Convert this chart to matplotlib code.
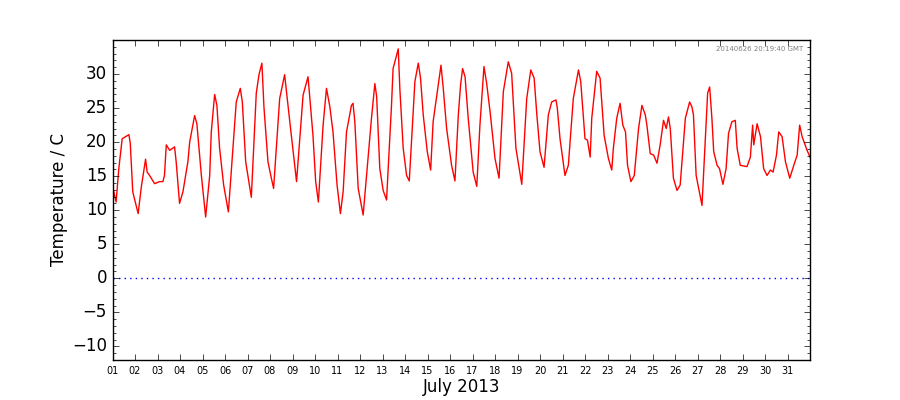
import datetime as dt
import matplotlib
matplotlib.use('Agg')
import matplotlib.pyplot as plt
import matplotlib.dates as mdates
from matplotlib.ticker import MultipleLocator, FixedLocator

# day of month (decimal) and temperature in C
days = [1.01, 1.16, 1.28, 1.43, 1.73, 1.79, 1.90, 2.14, 2.28, 2.47, 2.54, 2.65, 2.87,
        3.09, 3.24, 3.31, 3.39, 3.54, 3.76, 3.83, 3.98, 4.13, 4.35, 4.43, 4.65, 4.75,
        4.95, 5.14, 5.32, 5.39, 5.54, 5.64, 5.76, 5.94, 6.15, 6.35, 6.50, 6.68, 6.77,
        6.92, 7.17, 7.39, 7.51, 7.64, 7.73, 7.91, 8.06, 8.16, 8.43, 8.65, 8.88, 9.18,
        9.47, 9.69, 9.91, 10.03, 10.15, 10.36, 10.51, 10.66, 10.80, 10.98, 11.13, 11.25,
        11.40, 11.62, 11.69, 11.77, 11.92, 12.14, 12.29, 12.51, 12.66, 12.74, 12.88,
        13.03, 13.18, 13.40, 13.47, 13.70, 13.77, 13.92, 14.07, 14.19, 14.44, 14.59,
        14.69, 14.81, 14.99, 15.14, 15.25, 15.48, 15.60, 15.70, 15.85, 16.07, 16.22,
        16.37, 16.47, 16.56, 16.67, 16.81, 17.03, 17.19, 17.33, 17.51, 17.63, 17.78,
        18.00, 18.18, 18.37, 18.59, 18.74, 18.93, 19.19, 19.41, 19.59, 19.74, 19.86,
        20.00, 20.18, 20.37, 20.52, 20.71, 20.77, 20.89, 21.11, 21.26, 21.48, 21.71,
        21.81, 22.00, 22.11, 22.23, 22.30, 22.52, 22.67, 22.85, 23.04, 23.19, 23.26,
        23.41, 23.56, 23.68, 23.80, 23.89, 24.04, 24.19, 24.38, 24.53, 24.68, 24.75,
        24.90, 25.05, 25.20, 25.34, 25.49, 25.61, 25.71, 25.79, 25.93, 26.09, 26.23,
        26.46, 26.65, 26.75, 26.82, 26.94, 27.20, 27.34, 27.45, 27.54, 27.64, 27.72,
        27.87, 27.98, 28.13, 28.27, 28.38, 28.53, 28.68, 28.76, 28.90, 29.20, 29.35,
        29.45, 29.50, 29.65, 29.80, 29.94, 30.09, 30.24, 30.36, 30.51, 30.61, 30.76,
        30.91, 31.10, 31.28, 31.43, 31.54, 31.65, 31.87, 32.00]
temps = [13.4, 11.2, 16.1, 20.5, 21.1, 19.8, 12.7, 9.5, 13.4, 17.5, 15.6, 15.1, 13.9,
         14.2, 14.2, 15.1, 19.6, 18.8, 19.3, 17.1, 11.0, 12.7, 17.1, 20.0, 23.9, 22.7,
         15.1, 9.0, 15.1, 21.5, 27.0, 25.4, 19.1, 13.7, 9.75, 19.1, 25.9, 27.9, 25.9,
         17.1, 11.9, 27.2, 29.9, 31.6, 25.2, 17.1, 14.7, 13.2, 26.4, 29.9, 23.0, 14.2,
         26.9, 29.6, 21.0, 14.2, 11.2, 22.5, 27.9, 25.2, 21.5, 13.7, 9.5, 12.7,
         21.5, 25.4, 25.7, 23.0, 13.2, 9.3, 15.1, 23.5, 28.6, 26.7, 16.1,
         12.9, 11.5, 25.4, 30.8, 33.7, 27.9, 19.1, 15.1, 14.3, 28.9, 31.6,
         29.4, 24.0, 18.6, 15.9, 23.0, 28.4, 31.3, 27.9, 22.0, 16.6, 14.3,
         24.0, 28.4, 30.8, 29.6, 23.5, 15.6, 13.5, 22.5, 31.1, 28.6, 24.5,
         17.6, 14.7, 27.4, 31.8, 30.1, 19.1, 13.8, 26.4, 30.6, 29.4, 24.0,
         18.6, 16.3, 24.0, 25.9, 26.2, 25.0, 20.5, 15.1, 16.6, 26.4, 30.6,
         28.9, 20.5, 20.3, 17.8, 23.5, 30.4, 29.4, 21.0, 17.6, 15.9, 19.1,
         23.5, 25.7, 22.5, 21.5, 16.6, 14.2, 15.1, 22.0, 25.4, 24.0, 22.5,
         18.3, 18.1, 16.9, 19.6, 23.2, 22.0, 23.7, 22.0, 14.7, 12.9, 13.7,
         23.5, 25.9, 25.2, 24.0, 15.1, 10.7, 20.0, 27.2, 28.1, 23.5, 18.6,
         16.6, 16.1, 13.8, 16.1, 21.3, 23.0, 23.2, 19.1, 16.6, 16.4, 17.8,
         22.5, 19.6, 22.7, 20.8, 16.1, 15.1, 15.9, 15.6, 18.1, 21.5, 20.8,
         17.1, 14.7, 16.6, 18.1, 22.5, 20.8, 18.8, 17.8]

start = dt.datetime(2013, 7, 1)
times = [start + dt.timedelta(days=d - 1) for d in days]
tick_days = [start + dt.timedelta(days=i) for i in range(31)]
y_ticks = [-10, -5, 0, 5, 10, 15, 20, 25, 30]

plt.style.use('classic')
fig = plt.figure(figsize=(9, 4), dpi=100, facecolor='white')
ax = fig.add_axes([0.125, 0.1, 0.775, 0.8])

ax.plot(times, temps, color='r', linewidth=1.0)
ax.axhline(0, color='b', linestyle=':', linewidth=1.0)

ax.set_xlim(start, dt.datetime(2013, 8, 1))
ax.set_ylim(-12, 35)
ax.xaxis.set_major_locator(FixedLocator(mdates.date2num(tick_days)))
ax.xaxis.set_major_formatter(mdates.DateFormatter('%d'))
ax.yaxis.set_major_locator(FixedLocator(y_ticks))
ax.yaxis.set_minor_locator(MultipleLocator(1))
ax.tick_params(axis='x', labelsize=7)
ax.tick_params(axis='y', labelsize=12)

ax.set_xlabel('July 2013', fontsize=12, labelpad=2)
ax.set_ylabel('Temperature / C', fontsize=12, labelpad=3)
ax.text(0.99, 0.98, '20140626 20:19:40 GMT', transform=ax.transAxes,
        ha='right', va='top', fontsize=5, color='gray')

fig.savefig('out.png', dpi=100, facecolor='white')
